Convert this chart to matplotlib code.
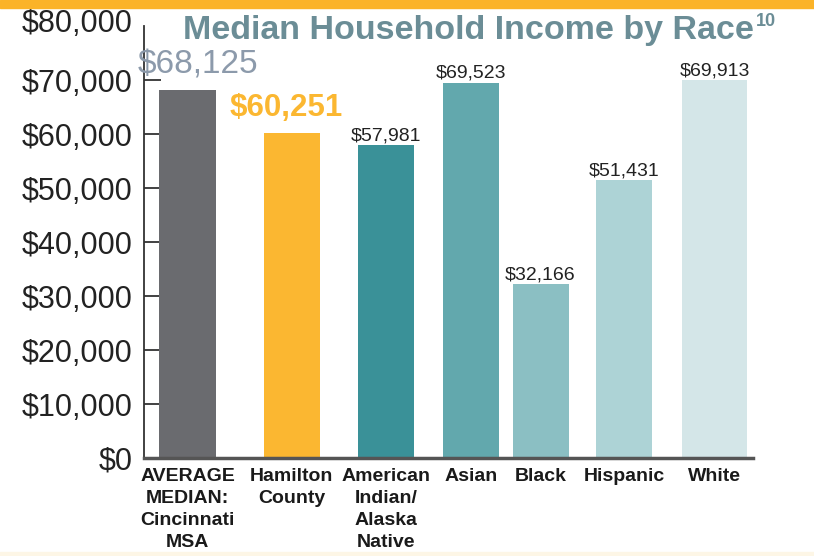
import matplotlib
matplotlib.use("Agg")
import matplotlib.pyplot as plt
from matplotlib.patches import Rectangle
from matplotlib.transforms import ScaledTranslation

# data
categories = ["AVERAGE\nMEDIAN:\nCincinnati\nMSA", "Hamilton\nCounty", "American\nIndian/\nAlaska\nNative",
              "Asian", "Black", "Hispanic", "White"]
incomes = [68125, 60251, 57981, 69523, 32166, 51431, 69913]
colors = ["#6a6b6f", "#fbb731", "#3a9198", "#62a8ad", "#8bbfc3", "#add3d6", "#d4e6e8"]
yticks = [0, 10000, 20000, 30000, 40000, 50000, 60000, 70000, 80000]

# layout (bars are not evenly spaced in the original)
xpos = [187.5, 291.5, 386, 471, 540.5, 624, 714.5]
widths = [57, 56, 56, 56, 56, 56, 65]

plt.rcParams['font.family'] = ['Liberation Sans', 'DejaVu Sans']

fig = plt.figure(figsize=(8.14, 5.56), dpi=100)
ax = fig.add_axes([144 / 814, 1 - 458 / 556, 609 / 814, 432 / 556])

ax.bar(xpos, incomes, width=widths, color=colors, zorder=2)
ax.set_xlim(144, 753)
ax.set_ylim(0, 80000)

ax.set_yticks(yticks)
ax.set_yticklabels(["${:,}".format(v) for v in yticks], fontsize=22, color="#222222")
ax.tick_params(axis="y", direction="in", length=12, width=1.3, color="#333333", pad=8)
top_tick = ax.yaxis.get_major_ticks()[-1]
top_tick.tick1line.set_visible(False)
top_tick.label1.set_transform(top_tick.label1.get_transform()
                              + ScaledTranslation(0, 0.05, fig.dpi_scale_trans))

ax.set_xticks(xpos)
ax.set_xticklabels(categories, fontsize=14, fontweight="bold", linespacing=1.4, color="#1a1a1a")
ax.tick_params(axis="x", length=0, pad=7)

for s in ["top", "right"]:
    ax.spines[s].set_visible(False)
ax.spines["left"].set_color("#333333")
ax.spines["left"].set_linewidth(1.3)
ax.spines["bottom"].set_color("#555555")
ax.spines["bottom"].set_linewidth(2.5)

# value labels
for i, (x, v) in enumerate(zip(xpos, incomes)):
    txt = "${:,}".format(v)
    if i == 0:
        ax.text(x + 10, v + 1700, txt, ha="center", va="bottom", fontsize=24, color="#8c9aab")
    elif i == 1:
        ax.text(x - 5, v + 1700, txt, ha="center", va="bottom", fontsize=22.5,
                fontweight="bold", color="#fbb731")
    else:
        ax.text(x, v + 150, txt, ha="center", va="bottom", fontsize=14, color="#222222")

# top orange band and faint bottom band
fig.patches.append(Rectangle((0, 1 - 8 / 556), 1, 8 / 556, transform=fig.transFigure,
                             color="#fbb328", zorder=0))
fig.patches.append(Rectangle((0, 0), 1, 4 / 556, transform=fig.transFigure,
                             color="#fdf6e6", zorder=0))

title = fig.text(183 / 814, 1 - 31 / 556, "Median Household Income by Race", fontsize=24.5,
                 fontweight="bold", color="#6b8d96", ha="left", va="center")
fig.canvas.draw()
bb = title.get_window_extent()
x1 = bb.x1 / fig.bbox.width
fig.text(x1 + 0.002, 1 - 21 / 556, "10", fontsize=13, fontweight="bold", color="#6b8d96",
         ha="left", va="center")

fig.savefig("out.png", dpi=100)
